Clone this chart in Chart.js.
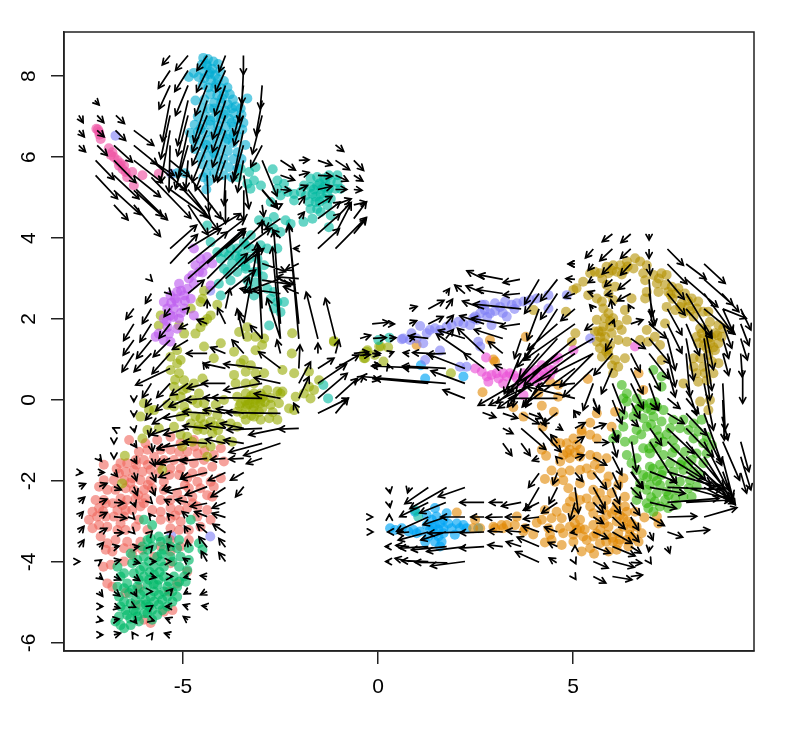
<!DOCTYPE html>
<html>
<head>
<meta charset="UTF-8">
<title>velocity</title>
<script src="https://cdn.jsdelivr.net/npm/chart.js"></script>
<style>
  body { margin: 0; background: #fff; }
  canvas { display: block; filter: blur(0.4px); }
</style>
</head>
<body>
<canvas id="chart" width="786" height="740"></canvas>
<script>
const xTicks = [-5, 0, 5];
const yTicks = [-6, -4, -2, 0, 2, 4, 6, 8];

const cyan = [[-4.48,8.45],[-4.36,8.42],[-4.22,8.36],[-4.1,8.3],[-4.52,8.28],[-4.38,8.25],[-4.25,8.18],[-4.05,8.12],[-4.48,8.12],[-4.33,8.05],[-4.18,8.02],[-4.85,7.98],[-4.72,8.08],[-4.6,7.98],[-4.45,7.95],[-4.28,7.9],[-4.1,7.92],[-3.95,7.88],[-4.5,7.78],[-4.35,7.72],[-4.18,7.72],[-4.02,7.7],[-3.86,7.72],[-4.3,7.55],[-4.12,7.52],[-3.95,7.55],[-3.8,7.55],[-3.72,7.42],[-3.35,7.45],[-4.68,7.4],[-4.45,7.42],[-4.2,7.35],[-4.02,7.35],[-3.85,7.3],[-3.65,7.25],[-3.52,7.2],[-4.5,7.2],[-4.32,7.2],[-4.1,7.15],[-3.92,7.15],[-3.7,7.08],[-3.5,7.05],[-4.62,7.0],[-4.42,7.0],[-4.2,6.98],[-4.02,6.95],[-3.82,6.95],[-3.6,6.92],[-3.45,6.85],[-4.7,6.8],[-4.5,6.8],[-4.3,6.8],[-4.1,6.78],[-3.9,6.75],[-3.7,6.75],[-3.48,6.68],[-4.82,6.6],[-4.62,6.62],[-4.42,6.6],[-4.2,6.58],[-4.0,6.58],[-3.8,6.55],[-3.6,6.52],[-4.72,6.42],[-4.55,6.4],[-4.32,6.42],[-4.12,6.38],[-3.92,6.38],[-3.72,6.35],[-3.4,6.3],[-4.7,6.2],[-4.45,6.22],[-4.25,6.2],[-4.05,6.18],[-3.85,6.15],[-3.6,6.12],[-4.55,6.0],[-4.35,6.02],[-4.15,5.98],[-3.95,5.95],[-3.7,5.95],[-3.5,5.95],[-4.5,5.82],[-4.3,5.8],[-4.05,5.78],[-3.82,5.75],[-3.6,5.72],[-4.4,5.6],[-4.2,5.6],[-3.95,5.55],[-3.75,5.5],[-4.48,5.5],[-4.35,5.4],[-4.4,5.2],[-5.15,5.6],[-4.95,5.6],[-4.4,8.3],[-4.3,8.1],[-4.15,7.8],[-4.0,7.45],[-3.75,7.2],[-4.2,7.2],[-3.95,7.05],[-4.3,6.9],[-3.75,6.85],[-4.55,6.7],[-4.1,6.65],[-3.85,6.45],[-4.4,6.3],[-3.7,6.55],[-4.2,6.1]];

const teal = [[-3.52,5.71],[-3.3,5.63],[-3.14,5.75],[-2.7,5.7],[-3.6,5.5],[-3.35,5.34],[-3.18,5.42],[-3.27,5.22],[-3,5.3],[-2.58,5.42],[-2.41,5.34],[-2.58,5.22],[-2.32,5.14],[-2.5,5.05],[-2.15,5.09],[-2.75,4.89],[-2.15,4.93],[-1.98,5.14],[-1.9,5.3],[-1.73,5.47],[-1.56,5.51],[-1.38,5.47],[-1.26,5.55],[-1.04,5.55],[-1.73,5.26],[-1.56,5.3],[-1.38,5.26],[-1.21,5.42],[-1.04,5.38],[-1.68,5.09],[-1.47,5.09],[-1.26,5.22],[-1.09,5.22],[-1.77,4.89],[-1.6,4.89],[-1.38,4.97],[-1.21,4.97],[-.96,5.22],[-1.73,4.72],[-1.56,4.72],[-1.3,4.81],[-1.68,4.48],[-1.91,4.4],[-1.47,4.64],[-1.21,4.56],[-1.26,4.27],[-2.67,4.52],[-2.37,4.44],[-2.24,4.35],[-1.85,5.05],[-1.45,5.2],[-1.3,5.1],[-1.6,5.02],[-1.5,5.35],[-1.35,5.4],[-1.65,5.2],[-1.5,4.9],
[-4.38,4.31],[-4.29,3.9],[-4.12,3.65],[-3.95,3.65],[-3.78,3.74],[-3.61,3.74],[-3.44,3.9],[-3.26,4.07],[-3.05,4.44],[-2.84,4.4],[-2.67,4.23],[-2.5,4.15],[-4.03,3.49],[-3.82,3.57],[-3.65,3.57],[-3.48,3.61],[-3.26,3.74],[-3.01,3.82],[-3.95,3.24],[-3.74,3.37],[-3.52,3.41],[-3.31,3.49],[-3.09,3.49],[-2.84,3.74],[-3.86,3.16],[-3.61,3.16],[-3.39,3.24],[-3.18,3.16],[-2.92,3.33],[-2.58,3.74],[-4.08,2.87],[-3.78,2.95],[-3.35,2.95],[-3.14,2.91],[-3.31,2.75],[-3.18,2.58],[-2.84,2.75],[-2.67,2.67],[-4.03,2.58],[-2.75,2.5],[-2.58,2.42],[-2.41,2.42],[-2.67,2.26],[-2.5,2.17],[-2.79,1.84],[-3.09,3.16],[-3.39,3.82],[-3.55,3.5],[-3.4,3.3],[-2.95,3.05],
[-1.4,.37],[-1.28,.04],[.01,1.48],[.29,1.54],[.95,-2.72],[1.03,-2.88]];

const pink = [[-7.22,6.7],[-7.15,6.62],[-7.11,6.45],[-7.18,6.68],[-7.14,6.55],[-6.9,6.22],[-6.81,6.12],[-6.77,6.0],[-6.68,5.92],[-6.64,5.79],[-6.51,5.79],[-6.47,5.63],[-6.43,5.5],[-6.04,5.55],[-6.26,5.3],[-6.3,5.63],[-5.62,5.59],[-6.85,6.05],[-6.6,5.85],[-6.55,5.7]];

const purple = [[-4.72,3.74],[-4.55,3.49],[-4.38,3.53],[-4.68,3.33],[-4.46,3.33],[-4.25,3.37],[-4.76,3.08],[-4.59,3.16],[-4.29,2.83],[-5.1,2.87],[-4.72,2.87],[-4.89,2.75],[-5.15,2.67],[-5.32,2.58],[-4.97,2.58],[-5.49,2.42],[-5.15,2.42],[-4.8,2.5],[-5.4,2.26],[-5.23,2.26],[-4.97,2.26],[-5.49,2.01],[-5.32,2.09],[-5.1,2.01],[-4.72,2.09],[-5.4,1.8],[-5.15,1.76],[-5.62,1.64],[-5.36,1.64],[-5.49,1.47],[-5.7,1.56],[-5.32,1.44],[-5.3,2.4],[-5.05,2.15],[-4.95,2.45],[-5.25,2.05],[-5.42,1.95],[-5.2,2.5],[-5.05,2.7],[-4.85,3.0],[-4.5,3.15]];

const olive = [[-4.46,2.7],[-4.5,2.5],[-4.55,2.42],[-4.12,2.35],[-4.8,2.26],[-4.29,2.09],[-4.46,1.93],[-4.38,2.0],[-4.55,1.8],[-5.57,2.09],[-5.62,1.84],[-5.1,1.84],[-4.97,1.64],[-4.68,1.64],[-3.56,1.68],[-3.35,1.8],[-3.35,1.56],[-3.14,1.56],[-2.92,1.52],[-2.2,1.65],[-1.13,1.46],
[-5.15,1.23],[-5.32,1.07],[-5.06,.99],[-5.32,.74],[-5.1,.66],[-4.97,.49],[-4.72,.41],[-5.23,.33],[-4.89,.29],[-4.59,.16],[-5.23,.08],[-5.06,.08],[-4.76,0],[-5.4,-.12],[-5.23,-.16],[-4.97,-.16],[-4.63,-.08],[-4.46,-.08],[-4.16,-.12],[-3.95,0],[-4.38,-.29],[-4.12,-.37],[-4.68,-.41],[-4.55,-.45],[-5.06,-.41],[-4.8,-.58],[-4.29,-.53],[-4.03,-.58],[-3.78,-.58],[-3.61,-.66],[-3.39,-.49],[-3.18,-.41],[-3.01,-.49],[-2.79,-.45],[-2.58,-.49],[-3.61,-.29],[-3.39,-.21],[-3.18,-.16],[-2.97,-.21],[-2.75,-.12],[-2.54,-.08],[-2.45,.21],[-2.58,.21],[-2.84,.25],[-3.01,.16],[-3.18,.16],[-3.39,.16],[-3.61,.08],[-3.14,0],[-3.31,0],[-3.52,-.08],[-3.01,-.08],[-3.39,.41],[-3.18,.41],[-2.92,.66],[-3.14,.66],[-3.26,.86],[-3.52,.91],[-3.69,.62],[-3.65,.41],[-3.39,.7],[-2.45,.74],[-2.15,.66],[-2.21,1.15],[-1.77,.7],[-1.51,.49],[-1.77,.33],[-1.64,.25],[-1.9,.16],[-1.73,.04],[-2.11,.08],[-2.28,-.21],[-2.15,-.25],[-2.5,.16],[-4.46,1.32],[-4.03,1.4],[-4.21,1.03],[-4.5,.53],[-3.69,1.19],[-3.44,.99],[-2.97,1.36],[-3.14,1.23],[-1.13,1.44],[-.27,1.23],[-.36,1.03],[.03,1.32],
[-6,-.08],[-6.09,-.41],[-5.87,-.25],[-5.74,-.25],[-5.91,-.74],[-5.62,-.7],[-6.04,-.95],[-5.23,-.66],[-5.06,-.86],[-4.89,-.91],[-4.63,-.74],[-4.46,-.74],[-4.25,-.82],[-4.03,-.99],[-3.74,-1.03],[-4.29,-1.15],[-4.5,-1.07],[-4.76,-1.03],[-5.02,-1.15],[-6.49,-1.38],[-5.53,-1.73],[-6.56,-2.06],[-4.38,-1.4],
[-3.3,-.1],[-3.2,-.25],[-3.05,-.3],[-2.9,-.05],[-2.75,.05],[-3.45,-.35],[-3.25,.1],[-3.1,.05],[-2.95,.08],[-3.4,-.02],[-2.7,-.3],[-3.55,-.15],[-4.2,-.65],[-4.45,-.6],[-4.6,-.65],[-4.1,-.75],[-.29,1.19],[-.08,1.11],[.07,1.32],[.26,1.3],[.14,.95],[-.33,1.03],[-.39,1.11],[1.87,.66],[-5.15,.9],[-5.2,.5],[-5.0,.25],[-4.9,-.3],[-3.35,-.12],[-3.15,-.08],[-3.0,.02],[-3.25,-.38]];

const salmon = [[-6.38,-.99],[-5.96,-1.07],[-5.66,-.99],[-5.32,-.91],[-5.06,-1.07],[-4.72,-.99],[-6.13,-1.28],[-5.91,-1.23],[-5.57,-1.23],[-5.32,-1.23],[-5.1,-1.28],[-4.89,-1.28],[-4.63,-1.32],[-4.21,-1.36],[-4.03,-1.19],[-7.03,-1.6],[-6.6,-1.56],[-6.43,-1.56],[-6.21,-1.48],[-6,-1.48],[-5.74,-1.4],[-5.49,-1.48],[-5.23,-1.48],[-4.97,-1.48],[-4.72,-1.56],[-4.46,-1.48],[-3.95,-1.52],[-6.64,-1.81],[-6.47,-1.77],[-6.26,-1.73],[-6.04,-1.77],[-5.83,-1.73],[-5.62,-1.81],[-5.32,-1.69],[-5.06,-1.69],[-4.76,-1.81],[-4.5,-1.77],[-7.03,-1.98],[-6.77,-1.98],[-6.51,-1.98],[-6.3,-1.93],[-6.09,-1.98],[-5.83,-1.98],[-5.49,-2.02],[-4.89,-1.93],[-4.63,-2.02],[-4.29,-2.02],[-4.03,-1.93],[-7.15,-2.14],[-6.94,-2.22],[-6.73,-2.22],[-6.47,-2.18],[-6.26,-2.22],[-6,-2.22],[-5.79,-2.18],[-5.49,-2.22],[-5.15,-2.3],[-4.85,-2.18],[-4.55,-2.18],[-4.21,-2.14],[-7.24,-2.47],[-7.03,-2.47],[-6.6,-2.43],[-6.43,-2.47],[-6.21,-2.43],[-5.96,-2.43],[-5.57,-2.47],[-5.32,-2.47],[-5.02,-2.47],[-4.76,-2.39],[-4.38,-2.35],[-4.25,-2.39],[-7.32,-2.76],[-7.15,-2.67],[-6.98,-2.55],[-6.68,-2.72],[-6.47,-2.72],[-6.3,-2.72],[-6.09,-2.63],[-5.79,-2.72],[-5.57,-2.76],[-5.32,-2.67],[-5.1,-2.72],[-4.89,-2.67],[-4.63,-2.63],[-4.38,-2.72],[-7.41,-2.96],[-7.2,-2.88],[-6.98,-2.88],[-6.77,-2.88],[-6.51,-2.88],[-6.13,-2.96],[-5.57,-2.96],[-5.32,-2.92],[-5.06,-3],[-4.63,-2.88],[-4.29,-2.96],[-7.32,-3.17],[-7.15,-3.09],[-6.94,-3.13],[-6.68,-3.21],[-6.47,-3.21],[-6.21,-3.13],[-5.91,-3.21],[-5.32,-3.17],[-5.1,-3.21],[-4.85,-3.21],[-4.55,-3.13],[-7.11,-3.37],[-6.94,-3.54],[-6.73,-3.46],[-6.43,-3.5],[-6.09,-3.5],[-5.32,-3.46],[-4.85,-3.46],[-6.98,-3.7],[-6.81,-3.74],[-6.51,-3.66],[-6.26,-3.66],[-6.04,-3.7],[-5.57,-3.62],[-5.32,-3.74],[-5.06,-3.62],[-7.04,-4.12],[-6.85,-4.07],[-6.51,-3.99],[-6.3,-3.83],[-5.74,-3.87],[-5.32,-4.03],[-4.89,-4.24],[-6.94,-4.53],[-6.81,-4.61],[-6.47,-4.77],[-6.13,-4.65],[-5.36,-4.73],[-5.15,-4.53],[-6.21,-5.06],[-6,-5.43],[-5.83,-5.51],[-5.27,-5.19],[-5.49,-5.23],
[-6.2,-1.6],[-5.9,-1.6],[-5.6,-1.6],[-5.35,-1.85],[-6.35,-2.05],[-6.15,-2.35],[-5.9,-2.1],[-6.55,-2.6],[-6.8,-2.55],[-7.05,-2.75],[-6.7,-1.7],[-5.1,-1.85],[-4.95,-2.1],[-4.75,-2.55],[-5.2,-2.85],[-6.6,-3.05],[-4.7,-1.15],[-4.45,-1.25],[-4.25,-1.65],[-6.0,-2.55]];

const green = [[-5.79,-3.09],[-6,-2.96],[-4.8,-2.96],[-5.62,-3.37],[-5.83,-3.42],[-5.4,-3.46],[-5.1,-3.46],[-6.04,-3.62],[-5.79,-3.62],[-5.49,-3.7],[-5.15,-3.66],[-4.85,-3.66],[-4.59,-3.54],[-4.5,-3.7],[-6.34,-3.79],[-6,-3.87],[-5.66,-3.87],[-5.32,-3.87],[-5.06,-3.87],[-4.85,-3.95],[-6.68,-4.12],[-6.3,-4.03],[-6,-4.12],[-5.74,-4.12],[-5.49,-4.12],[-5.1,-4.12],[-4.89,-4.2],[-6.6,-4.36],[-6.26,-4.28],[-6,-4.36],[-5.74,-4.32],[-5.49,-4.36],[-5.23,-4.36],[-4.97,-4.36],[-6.68,-4.61],[-6.43,-4.53],[-6.17,-4.61],[-5.91,-4.57],[-5.66,-4.57],[-5.4,-4.61],[-5.15,-4.61],[-4.93,-4.49],[-6.64,-4.86],[-6.38,-4.77],[-6.09,-4.81],[-5.83,-4.86],[-5.62,-4.81],[-5.4,-4.86],[-5.15,-4.86],[-6.6,-5.1],[-6.34,-5.02],[-6.09,-5.06],[-5.87,-5.1],[-5.62,-5.06],[-5.4,-5.1],[-6.64,-5.35],[-6.43,-5.31],[-6.17,-5.35],[-5.91,-5.27],[-5.66,-5.31],[-6.6,-5.56],[-6.34,-5.56],[-6.13,-5.47],[-5.79,-5.43],[-6.73,-5.47],[-6.51,-5.64],[-6.26,-5.19],[-6,-5.27],
[-5.57,-3.5],[-5.32,-3.62],[-5.91,-3.46],[-6.17,-3.95],[-5.87,-3.99],[-5.57,-3.99],[-5.27,-3.99],[-6.51,-4.28],[-6.13,-4.44],[-5.87,-4.44],[-5.62,-4.44],[-5.36,-4.49],[-5.1,-4.49],[-6.51,-4.65],[-6.3,-4.69],[-6,-4.73],[-5.74,-4.73],[-5.49,-4.73],[-5.27,-4.73],[-6.51,-4.98],[-6.21,-4.94],[-5.96,-4.94],[-5.74,-4.98],[-5.53,-4.94],[-5.27,-4.98],[-6.47,-5.19],[-6.21,-5.23],[-5.79,-5.19],[-5.53,-5.19],[-5.9,-3.7],[-5.55,-3.8],[-5.75,-4.55],[-5.85,-4.25],[-5.6,-4.25],[-6.1,-4.2],[-5.95,-5.05],[-6.35,-5.4]];

const periwinkle = [[-6.73,6.53],[-5.3,5.59],[-5.3,-3.35],[-4.3,-3.37],[-4.3,2.7],[.65,1.52],[.86,1.65],[1.08,1.83],[.82,1.48],[.99,1.52],[1.16,1.4],[.61,1.5],[1.33,1.73],[1.46,1.77],[1.59,1.73],[1.25,1.65],[1.76,1.81],[1.89,1.85],[2.06,1.93],[2.19,1.89],[2.36,1.85],[2.49,2.06],[2.62,2.14],[2.74,2.22],[2.87,2.14],[3,2.39],[2.74,2.35],[2.53,1.98],[2.91,1.85],[3.13,2.3],[3.26,2.43],[3.3,2.06],[3.43,2.35],[3.56,2.39],[3.73,2.43],[3.9,2.47],[4.07,2.51],[4.37,2.59],[4.37,2.26],[2.66,2.35],[2.44,2.02],[4.84,2.59],[2.57,1.44],[2.62,1.32],[1.59,1.22],[1.21,.99],[2.1,.82],[2.27,.82],[5.44,1.52],[3.0,2.2],[3.2,2.15],[3.5,2.25],[2.8,2.05]];

const magenta = [[2.49,.78],[2.66,.7],[2.79,.58],[2.91,.62],[3.09,.53],[3.21,.66],[3.38,.66],[3.56,.53],[3.73,.66],[3.9,.7],[4.07,.74],[4.2,.86],[4.37,.78],[4.5,.74],[3.98,.58],[4.15,.62],[4.28,.58],[3.81,.49],[3.64,.41],[3.21,.41],[2.83,.45],[2.77,1.05],[5.01,1.23],[4.62,1.05],[4.54,.99],[6.59,1.32],[3.73,.12],[4.07,.45],[4.24,.7],[3.9,.53],[4.41,.62],[3.47,.62],[3.04,.66],[3.3,.58]];

const gold = [[5.09,2.76],[5.26,2.92],[5.01,2.72],[5.44,3.13],[5.56,3.17],[5.69,3.13],[5.86,3.29],[6.03,3.33],[6.21,3.33],[6.38,3.42],[6.59,3.5],[6.72,3.42],[6.89,3.33],[5.91,3.13],[6.12,3.17],[6.33,3.21],[6.55,3.25],[6.8,3.13],[7.06,3.09],[6.85,2.96],[7.27,3.13],[7.4,3.09],[7.15,2.88],[7.36,2.84],[7.53,2.8],[7.7,2.76],[6.89,2.67],[6.85,2.51],[7.19,2.67],[7.44,2.67],[7.66,2.63],[7.87,2.63],[8.04,2.51],[8.21,2.43],[8.34,2.18],[8.47,2.18],[7.79,2.39],[7.96,2.3],[8.17,2.26],[7.4,2.3],[7.62,2.22],[7.83,2.14],[8.09,2.06],[5.39,2.59],[5.61,2.51],[5.74,2.43],[5.91,2.63],[6.08,2.8],[5.86,2.84],[6.03,2.47],[6.5,2.51],[6.33,2.22],[5.78,2.26],[5.91,2.14],[5.61,1.98],[5.82,2.02],[6.03,2.02],[6.38,1.98],[5.78,1.81],[5.95,1.81],[6.16,1.85],[5.56,1.69],[5.74,1.69],[5.99,1.65],[6.25,1.73],[5.61,1.44],[5.82,1.56],[6.16,1.48],[5.69,1.28],[5.95,1.36],[6.38,1.44],[5.74,1.07],[5.91,1.11],[6.08,.99],[6.16,.82],[6.03,.66],[6.33,1.03],[6.89,1.73],[7.1,1.56],[7.36,1.89],[6.72,1.48],[6.93,1.44],[7.23,1.36],[7.27,.99],[8.51,1.93],[8.73,1.85],[8.85,1.77],[8.26,1.77],[8.43,1.73],[8.64,1.65],[8.81,1.56],[8.17,1.56],[8.34,1.52],[8.51,1.4],[8.73,1.4],[8.21,1.4],[8.43,1.28],[8.64,1.23],[8.47,1.11],[8.09,1.03],[8.26,1.03],[8.73,.91],[8.56,.95],[8.09,.82],[8.34,.82],[8.17,.66],[8.38,.66],[8.21,.45],[8.43,.49],[7.83,.41],[8.6,.66],[8.51,0],[8.47,-.25],[8.26,-.04],[3.99,2.22],[4.82,2.18],[5.06,1.65],[4.97,1.44],
[6.0,3.2],[6.25,3.1],[5.75,3.0],[7.55,2.5],[7.75,2.3],[5.8,1.4],[5.85,1.2],[5.65,1.7],[5.95,1.95],[8.35,1.35],[8.55,1.55],[8.3,1.65],[8.6,1.3],[6.4,3.3],[7.2,3.0],[7.5,2.6],[7.95,2.45],[8.0,2.2],[5.7,1.55],[5.9,1.25],[6.0,.85],[8.45,1.5],[8.7,1.6]];

const lime = [[7.06,.74],[7.27,.58],[7.27,.33],[6.63,.04],[6.29,.04],[6.38,.16],[6.25,.37],[6.97,-.08],[6.72,-.16],[6.38,-.04],[6.63,-.25],[6.89,-.21],[7.15,-.16],[7.32,-.25],[6.29,-.37],[6.55,-.41],[6.8,-.45],[7.06,-.41],[7.27,-.53],[7.57,-.49],[7.83,-.49],[8.09,-.58],[8.3,-.49],[6.29,-.66],[6.12,-.86],[6.63,-.74],[6.89,-.66],[7.15,-.74],[7.49,-.7],[7.74,-.7],[7.96,-.74],[8.21,-.78],[8.43,-.91],[6.03,-.95],[6.33,-1.03],[6.55,-.99],[6.8,-1.19],[7.06,-1.07],[7.32,-1.03],[7.57,-.99],[8.09,-.95],[8.34,-1.07],[8.56,-1.11],[6.38,-1.36],[6.63,-1.44],[6.97,-1.32],[7.32,-1.36],[7.62,-1.19],[7.87,-1.28],[8.17,-1.32],[8.43,-1.32],[6.5,-1.56],[6.63,-1.73],[6.97,-1.65],[7.23,-1.6],[7.49,-1.56],[7.79,-1.52],[8.04,-1.48],[8.34,-1.56],[6.8,-1.85],[7.06,-1.89],[7.27,-1.85],[7.57,-1.77],[7.83,-1.73],[8.09,-1.77],[6.72,-2.06],[6.97,-2.1],[7.23,-2.1],[7.49,-2.06],[7.74,-2.02],[8,-1.98],[8.26,-1.85],[6.63,-2.26],[6.89,-2.22],[7.15,-2.3],[7.4,-2.26],[7.66,-2.22],[7.96,-2.18],[8.17,-2.14],[6.63,-2.47],[6.89,-2.55],[7.1,-2.51],[7.36,-2.47],[7.62,-2.43],[7.83,-2.39],[8.04,-2.39],[6.93,-2.67],[7.44,-2.67],[7.66,-2.59],[7.23,-2.63],[7.06,-2.76],
[7.0,-.6],[7.2,-.9],[7.4,-.85],[6.75,-.85],[6.95,-1.2],[7.15,-1.2],[7.05,-1.7],[7.3,-1.75],[6.9,-1.9],[7.15,-2.0],[7.45,-2.35],[7.0,-2.4],[7.0,-.25],[6.8,-.1],[7.1,-.05],[7.55,-1.3],[7.75,-1.6],[7.95,-1.6]];

const orange = [[.99,1.36],[2.87,1.48],[2.96,1],[3,.95],[3.79,1.56],[2.68,.19],[3.47,-.18],[3.73,-.41],[4.2,-.14],[4.51,-.29],[4.11,.16],[4.62,.08],[4.41,.45],[4.62,.37],[5.38,.52],[6.68,.66],[6.8,.25],[5.61,-.33],[6.08,-.29],[5.44,-.56],[5.99,-.66],[4.22,-.66],[5.22,-.74],
[4.54,-1.03],[4.67,-1.07],[4.2,-1.23],[4.31,-1.38],[5.01,-.95],[5.22,-.81],[5.44,-.86],[5.61,-.95],[4.84,-1.07],[5.09,-1.11],[4.92,-1.23],[5.18,-1.23],[4.75,-1.36],[4.92,-1.44],[4.67,-1.52],[5.18,-1.4],[5.44,-1.36],[5.61,-1.4],[5.86,-1.44],[5.56,-1.6],[5.35,-1.69],[5.69,-1.69],[4.45,-1.74],[4.71,-1.79],[4.92,-1.74],[5.18,-1.73],[4.28,-1.95],[4.54,-2.02],[4.75,-1.98],[5.48,-1.85],[5.91,-1.89],[6.29,-1.93],[5.18,-2.06],[5.86,-2.06],[6.16,-2.1],[4.88,-2.18],[5.52,-2.22],[5.01,-2.39],[5.35,-2.43],[5.69,-2.3],[5.99,-2.3],[6.33,-2.39],[4.92,-2.51],[5.18,-2.47],[5.61,-2.47],[5.86,-2.47],[6.12,-2.55],[6.33,-2.63],[4.84,-2.67],[5.09,-2.67],[5.44,-2.63],[5.78,-2.67],[6.08,-2.72],[6.38,-2.76],[4.28,-2.72],[4.58,-2.76],[5.01,-2.84],[5.52,-2.8],[5.86,-2.84],[6.29,-2.92],[6.59,-2.76],[4.2,-2.96],[4.45,-2.92],[4.71,-2.92],[5.18,-2.96],[5.69,-2.96],[6.12,-3],[6.5,-3.05],[6.83,-2.9],[4.07,-3.03],[4.37,-3.17],[4.67,-3.17],[4.92,-3.13],[5.18,-3.17],[5.52,-3.09],[5.91,-3.13],[6.29,-3.13],[6.63,-3.13],[4.41,-3.33],[4.75,-3.29],[5.01,-3.33],[5.26,-3.37],[5.52,-3.37],[5.86,-3.33],[6.16,-3.29],[6.46,-3.33],[6.76,-3.29],[4.45,-3.46],[4.71,-3.58],[5.01,-3.5],[5.35,-3.46],[5.69,-3.54],[6.03,-3.5],[6.38,-3.46],[6.68,-3.5],[4.28,-3.52],[5.22,-3.74],[5.44,-3.66],[5.54,-3.8],[5.91,-3.74],[6.12,-3.7],[6.42,-3.62],[7.15,-2.88],[7.19,-3.05],
[2.49,-2.96],[2.44,-3.17],[2.62,-3.17],[2.96,-3.13],[3.17,-3.09],[3.3,-3.09],[3.56,-2.88],[3.51,-3.09],[3.77,-3.17],[3.98,-3.32],[3.73,-3.25],[3.21,-3.17],[3,-3.17],[2.02,-2.78],
[5.1,-3.2],[5.3,-3.2],[5.7,-3.2],[6,-3.4],[6.2,-3.45],[5.05,-3.05],[5.8,-3.05],[6.45,-3.2],[5.6,-3.3],[6.55,-3.4],[4.85,-1.3],[5.05,-1.3],[6.0,-2.8],[6.2,-2.85],[6.4,-3.0],[5.85,-3.5],[6.15,-3.55]];

const blue = [[.31,-3.17],[.44,-3.21],[.61,-3.17],[.95,-2.76],[1.46,-2.67],[1.76,-2.8],[1.25,-2.84],[1.5,-2.88],[1.68,-2.96],[2.02,-3.05],[2.19,-3.09],[1.25,-3.09],[1.46,-3.09],[1.68,-3.17],[1.89,-3.17],[2.1,-3.17],[2.27,-3.17],[2.57,-3.17],[1.46,-3.29],[1.68,-3.29],[1.97,-3.33],[1.21,-3.5],[1.46,-3.5],[1.63,-3.5],[1.59,-3.62],[1.08,-3.25],[.91,-3.21],[1.38,-2.96],[1.59,-3.05],[1.33,-3.21],[1.8,-3.05],[1.55,-3.37],[1.29,-3.37],[.99,-3.29],[.78,-3.25],[1.4,-3.15],[1.55,-3.2],[1.1,.86],[1.21,.53],[2.19,.58]];

// tail x, tail y, dx, dy
const arrowsTop = [[-5.33,8.51,-.2,-.23],[-4.87,8.51,-.32,-.37],[-4.38,8.51,-.26,-.37],[-3.91,8.51,-.16,-.4],[-3.45,8.51,0,-.47],[-5.33,8.14,-.3,-.44],[-4.87,8.14,-.34,-.52],[-4.38,8.14,-.27,-.53],[-3.91,8.14,-.25,-.53],[-3.45,8.14,-.04,-.82],[-5.33,7.77,-.28,-.58],[-4.87,7.77,-.32,-.74],[-4.38,7.77,-.3,-.74],[-3.91,7.77,-.27,-.74],[-3.45,7.77,-.11,-.9],[-2.97,7.77,-.05,-.58],[-5.33,7.4,-.2,-1.01],[-4.87,7.4,-.27,-1.11],[-4.38,7.4,-.34,-1.03],[-3.91,7.4,-.33,-.95],[-3.45,7.4,-.24,-.86],[-2.97,7.4,-.16,-.86],[-5.33,7.03,-.24,-1.07],[-4.87,7.03,-.27,-1],[-4.38,7.03,-.38,-.9],[-3.91,7.03,-.33,-.9],[-3.45,7.03,-.24,-.74],[-2.97,7.03,-.25,-.95],[-5.33,6.66,-.24,-1.28],[-4.87,6.66,-.27,-1.19],[-4.38,6.66,-.38,-.86],[-3.91,6.66,-.33,-.9],[-3.45,6.66,-.28,-1.28],[-5.33,6.29,-.03,-1.15],[-4.87,6.29,-.32,-1.07],[-4.38,6.29,-.38,-.9],[-3.91,6.29,-.29,-.9],[-3.45,6.29,-.24,-.82],[-2.97,6.29,-.29,-.53],[-4.87,5.92,-.06,-.7],[-4.38,5.92,-.3,-.74],[-3.91,5.92,-.2,-.53],[-3.45,5.92,-.15,-.78],[-2.97,5.92,.38,-.88],[-4.38,5.55,.04,-.9],[-3.91,5.55,-.04,-.74],[-3.44,5.55,.13,-.82],[-3.91,5.18,0,-.82],[-3.44,5.18,0,-.74],[-2.97,5.18,.39,-.44],[-2.97,4.82,.04,-.29]];

const arrowsPink = [[-7.67,7.03,.11,-.18],[-7.2,7.03,.17,-.18],[-6.72,7.03,.22,-.2],[-7.26,7.4,.11,-.11],[-7.67,6.66,.14,-.16],[-7.2,6.66,.18,-.16],[-6.73,6.66,.26,-.25],[-6.26,6.66,.51,-.37],[-7.67,6.29,.17,-.16],[-7.2,6.29,.26,-.25],[-6.77,6.29,.47,-.41],[-6.26,6.29,.6,-.47],[-7.24,5.92,.47,-.47],[-6.77,5.92,.56,-.55],[-6.26,5.92,.73,-.55],[-5.81,5.92,.58,-.37],[-7.24,5.55,.56,-.58],[-6.77,5.55,.64,-.58],[-6.26,5.55,.68,-.53],[-5.81,5.5,1.01,-1.01],[-6.77,5.18,.68,-.6],[-6.26,5.18,.73,-.64],[-6.2,5.2,.8,-.75],[-6.77,4.82,.36,-.37],[-6.26,4.82,.68,-.78],[-5.33,5.55,1.03,-1.07],[-4.87,5.2,.77,-1],[-5.33,5.2,.94,-.66],[-4.87,5.55,.85,-1.07],[-4.87,4.82,.51,-.74],[-5.81,5.92,.9,-.75],[-5.33,5.92,.5,-.4]];

const arrowsTealRight = [[-2.5,5.92,.38,-.24],[-2.03,5.92,.26,.01],[-1.54,5.92,.36,-.12],[-1.09,5.92,.36,-.23],[-.62,5.92,.25,-.25],[-1.09,6.3,.21,-.16],[-2.5,5.55,.36,-.12],[-2.03,5.55,.26,.07],[-1.54,5.55,.36,-.02],[-1.09,5.55,.32,-.14],[-.62,5.55,.23,-.14],[-2.97,5.2,.39,-.44],[-2.5,5.2,.26,-.02],[-2.03,5.2,.22,.1],[-1.54,5.2,.36,.08],[-1.09,5.2,.29,0],[-.62,5.2,.21,-.02],[-2.5,4.82,.04,.02],[-2.03,4.82,.15,.21],[-1.54,4.82,.36,.21],[-1.09,4.82,.4,.15],[-.62,4.82,.32,.07],[-2.03,4.48,.14,.16],[-1.54,4.48,.57,.41],[-1.09,4.48,.4,.4],[-.62,4.48,.32,.41],[-1.54,4.11,.57,.49],[-1.09,4.11,.4,.74],[-1.09,3.74,.79,.77],[-1.54,3.74,.55,.49],[-.62,4.11,.32,.37]];

const arrowsCentre = [[-5.33,3.74,.68,.58],[-5.33,3.37,.7,.72],[-4.87,3.74,.84,.49],[-4.87,3.37,1.01,.78],[-4.87,3,1.44,1.23],[-4.38,3.37,.98,.86],[-4.38,3,1.45,1.4],[-4.87,2.63,.41,.33],[-4.38,2.63,1.03,.99],[-3.91,3,.85,.74],[-3.91,2.63,.77,.58],[-4.38,4.11,.85,.49],[-3.91,3.74,.51,.41],[-3.91,4.11,.5,.37],[-2.5,4.48,-.38,-.25],[-3.44,3.74,.68,.49],[-3.44,3.37,.51,.37],[-5.81,2.96,.02,-.02],[-5.33,2.63,.02,-.02],[-5.81,2.63,-.15,-.24],[-6.26,2.26,-.2,-.26],[-5.81,2.26,-.23,-.37],[-5.33,2.26,-.15,-.2],[-6.26,1.88,-.26,-.41],[-5.81,1.88,-.29,-.44],[-5.33,1.88,-.28,-.35],[-4.87,2.26,.02,.02],[-4.87,1.88,-.23,-.12],[-4.38,2.26,0,.21],[-4.38,1.88,-.26,.11],[-3.91,2.26,.11,.49],[-3.91,1.88,-.2,.39],[-3.44,1.9,-.13,.25],[-3.44,1.51,-.17,.74],[-2.97,1.51,-.3,.33],[-2.5,1.51,-.34,1],[-2.03,1.51,-.26,2.84],[-2.5,1.88,-.17,2.3],[-2.5,1.51,-.21,2.26],[-2.97,1.51,-.13,2.37],[-2.97,2.26,-.09,1.55],[-2.03,1.88,-.26,2.42],[-1.54,1.51,-.3,1.15],[-1.09,1.51,-.26,1],[-3.44,1.9,.34,1.81],[-2.03,2.63,-.38,.16],[-2.03,3,-.56,.04],[-2.03,3.37,-.34,-.16],[-2.03,3.74,-.13,0],[-2.5,3,-.9,-.33],[-2.97,2.63,-.56,.12],[-2.5,2.63,-.7,.1],[-3.44,2.63,.13,.4],[-2.97,2.96,.7,-.1],[-2.97,3.37,.6,-.2],[-2.5,2.96,.35,-.1],[-2.97,4.11,0,.33],[-2.5,4.0,-.2,.2]];

const arrowsLeft = [[-6.26,1.48,-.27,-.37],[-5.81,1.48,-.38,-.45],[-5.33,1.48,-.43,-.41],[-4.87,1.48,-.4,-.23],[-6.26,1.15,-.3,-.45],[-5.81,1.15,-.44,-.45],[-5.33,1.15,-.46,-.5],[-4.38,1.15,-.53,0],[-3.91,1.15,-.38,.15],[-3.44,1.15,-.3,.33],[-2.5,1.15,-.09,.33],[-2.03,.78,.03,.58],[-1.54,1.15,0,.25],[-1.09,1.15,.09,.33],[-5.33,.78,-.88,-.41],[-4.38,.78,-.1,.14],[-3.91,.78,-.56,.12],[-2.97,.78,-.98,.11],[-2.5,.78,-.56,.41],[-2.03,.41,.3,.53],[-2.03,.04,.26,.53],[-1.54,.78,.41,.25],[-1.54,.41,.73,.48],[-1.54,.04,.75,.62],[-1.54,-.33,.78,.37],[-1.09,-.33,.32,.37],[-1.09,.78,.6,.33],[-.62,1.15,.38,.04],[-.15,1.15,.21,0],[-.62,.41,.26,.18],[-.15,.53,.17,-.04],[-.15,.86,.21,0],[-1.09,.04,.56,.49],
[-5.81,.41,-.23,-.35],[-5.33,.41,-.34,-.35],[-4.87,.41,-.44,-.29],[-4.38,.41,-.51,-.12],[-3.91,.41,-.6,0],[-2.97,.41,-.98,-.17],[-2.5,.41,-.67,.14],[-6.26,.04,0,-.08],[-5.81,.04,-.15,-.2],[-5.33,.04,-.37,-.31],[-4.87,.04,-.49,-.21],[-4.38,.04,-.56,-.04],[-3.91,.04,-.56,.02],[-2.97,.04,-1.28,.02],[-2.5,.04,-.67,.12],[-6.26,-.33,0,-.08],[-5.81,-.33,-.15,-.16],[-5.33,-.33,-.45,-.26],[-4.87,-.33,-.62,-.12],[-4.38,-.33,-.62,.04],[-3.91,-.33,-.56,.09],[-3.44,-.33,-.7,.11],[-2.5,-.33,-1.39,.02],[-2.03,-.33,-.13,.25],[-6.77,-.7,-.02,.01],[-6.26,-.7,.02,-.09],[-5.81,-.7,-.06,-.21],[-5.33,-.7,-.48,-.16],[-4.87,-.7,-.62,-.16],[-4.38,-.7,-.62,.06],[-3.91,-.7,-.51,.07],[-3.44,-.7,-.6,.12],[-2.97,-.7,-.9,-.04],[-2.5,-.7,-.81,-.16],[-2.03,-.7,-.51,-.02],
[-6.77,-1.07,0,-.01],[-6.26,-1.07,.07,-.1],[-5.81,-1.07,.03,-.21],[-5.33,-1.07,-.32,-.16],[-4.87,-1.07,-.79,-.12],[-4.38,-1.07,-.62,.04],[-3.91,-1.07,-.51,.1],[-3.44,-1.07,-.51,.08],[-2.97,-1.07,-.85,-.22],[-2.5,-1.07,-.94,-.3],[-7.15,-1.44,.06,-.07],[-6.77,-1.44,0,-.01],[-6.26,-1.44,.07,-.12],[-5.81,-1.44,.09,-.19],[-5.33,-1.44,-.37,-.14],[-4.87,-1.44,-.74,-.12],[-4.38,-1.44,-.68,-.07],[-3.91,-1.44,-.38,-.03],[-3.44,-1.44,-.38,-.02],[-2.97,-1.44,-.4,-.13],
[-7.67,-1.79,.09,-.01],[-7.15,-1.79,.13,0],[-6.77,-1.79,.09,-.1],[-6.26,-1.79,.07,-.2],[-5.81,-1.79,.11,-.22],[-5.33,-1.79,-.28,-.12],[-4.87,-1.79,-.19,-.16],[-4.38,-1.79,-.67,-.16],[-3.91,-1.79,-.44,-.2],[-3.44,-1.79,-.34,-.19],[-7.67,-2.14,.17,.07],[-7.15,-2.14,.2,.08],[-6.77,-2.14,.19,-.08],[-6.26,-2.14,.09,-.21],[-5.81,-2.14,.09,-.21],[-5.33,-2.14,-.2,-.08],[-4.87,-2.14,-.57,-.12],[-4.38,-2.14,-.56,-.21],[-3.91,-2.16,-.37,-.23],[-3.44,-2.14,-.21,-.25],
[-7.67,-2.53,.15,.13],[-7.15,-2.53,.2,.08],[-6.77,-2.53,.26,-.02],[-6.26,-2.53,.04,-.1],[-5.81,-2.53,.02,-.02],[-5.33,-2.53,-.14,.07],[-4.87,-2.53,-.32,.07],[-4.38,-2.55,-.43,-.08],[-3.91,-2.53,-.34,-.14],[-7.67,-2.88,.11,.12],[-7.15,-2.88,.2,.1],[-6.77,-2.88,.32,-.04],[-6.26,-2.92,.02,-.02],[-5.81,-2.88,-.06,.07],[-5.33,-2.88,-.07,.07],[-4.87,-2.88,-.15,.12],[-4.38,-2.88,-.32,.12],[-3.91,-2.9,-.34,.1],
[-7.67,-3.28,.13,.16],[-7.15,-3.28,.2,.11],[-6.77,-3.28,.24,0],[-6.26,-3.28,.02,-.02],[-5.81,-3.26,.02,.02],[-5.33,-3.26,.02,.02],[-4.87,-3.26,-.09,.14],[-4.38,-3.28,-.26,.21],[-3.91,-3.28,-.32,.21],[-7.67,-3.64,.13,.18],[-7.15,-3.64,.11,.12],[-6.77,-3.64,.13,.03],[-6.26,-3.64,.13,.02],[-5.81,-3.64,.03,.03],[-5.33,-3.64,-.07,.08],[-4.87,-3.64,-.02,.18],[-4.38,-3.64,-.21,.26],[-3.91,-3.64,-.17,.22],
[-7.67,-3.99,.02,0],[-7.15,-3.99,.06,.04],[-6.77,-3.99,.17,.04],[-6.26,-3.99,.15,-.04],[-5.81,-3.99,.11,0],[-5.33,-3.99,.02,0],[-4.87,-3.99,-.12,.08],[-4.38,-3.99,-.15,.25],[-3.91,-3.99,-.17,.22],[-7.15,-4.36,.09,-.07],[-6.77,-4.36,.17,-.08],[-6.26,-4.36,.15,-.1],[-5.81,-4.36,.11,-.02],[-5.33,-4.36,.06,0],[-4.87,-4.36,-.1,-.02],[-4.38,-4.36,-.17,.02],[-7.15,-4.73,.09,-.12],[-6.77,-4.73,.15,-.11],[-6.26,-4.73,.07,-.11],[-5.81,-4.73,.02,0],[-5.33,-4.73,.06,.06],[-4.87,-4.73,-.1,-.06],[-4.38,-4.73,-.17,-.08],[-7.15,-5.1,.09,0],[-6.77,-5.1,.15,-.04],[-6.26,-5.1,.04,-.02],[-5.81,-5.1,.03,.02],[-5.33,-5.1,-.11,0],[-4.87,-5.1,-.12,.04],[-4.38,-5.1,-.13,.02],[-7.15,-5.43,.09,-.02],[-6.77,-5.43,.13,.02],[-6.26,-5.43,.07,-.08],[-5.81,-5.43,.07,-.02],[-5.33,-5.43,-.11,.04],[-4.87,-5.43,-.12,.08],[-7.15,-5.8,.09,0],[-6.77,-5.8,.17,.04],[-6.26,-5.8,-.04,.06],[-5.81,-5.8,.03,.04],[-5.33,-5.8,-.14,.04]];

const arrowsBridge = [[-.46,1.52,.27,.08],[-.15,1.88,.43,.04],[-.13,1.52,.34,.02],[.29,1.88,.13,0],[.29,1.52,.17,.02],[.8,2.25,.2,.06],[.8,1.88,.19,.08],[1.29,2.25,.4,.21],[1.29,1.88,.38,.18],[1.74,2.63,.09,.12],[1.74,2.25,.17,.24],[2.23,2.63,-.26,.21],[2.72,2.98,-.44,.21],[1.74,1.88,.19,.21],[1.74,1.52,.19,.22],[1.29,1.52,-.49,.06],[.8,1.52,.14,.04],[-.46,1.1,.26,.02],[-.13,1.15,.17,-.04],[.29,1.15,.11,.04],[.8,1.15,-.15,.02],[1.29,1.15,-.4,.02],[1.74,1.15,-.47,-.02],[2.23,.78,-.94,.35],[2.72,.78,-.51,.37],[2.23,1.15,-.73,.48],[2.72,1.15,-.68,.62],[3.2,1.15,-.37,.29],[3.2,1.52,-.73,.22],[3.21,1.88,-.81,.14],[3.64,1.88,-.51,-.07],[3.64,2.63,-.43,-.04],[3.64,2.98,-.43,-.08],[3.2,2.98,-.61,.11],[3.2,2.63,-.67,.1],[2.72,2.63,-.46,.19],[2.72,2.25,-.55,.19],[3.67,2.25,-1.22,.12],[2.72,1.88,-.62,.2],[2.23,1.52,-.68,.2],[1.74,.78,-1.11,.06],[1.74,.41,-2.18,.17],[1.29,.78,-1.45,.06],[1.29,.41,-1.37,.12],[.8,.78,-.15,.02],[.29,.78,-.04,.1],[2.23,.41,-.87,.31],[2.23,.04,-.56,.21],[3.2,.78,-.21,.08],
[.29,-2.2,.02,-.1],[.8,-2.16,-.04,-.13],[1.29,-2.16,-.6,-.4],[1.76,-2.16,-.94,-.52],[2.23,-2.16,-.68,-.23],[.29,-2.55,.02,-.1],[1.29,-2.53,-.73,-.35],[1.74,-2.53,-.67,-.26],[2.72,-2.53,-.62,0],[3.2,-2.53,-.34,0],[3.67,-2.53,-.5,-.09],[4.13,-2.53,-.4,-.19],[-.16,-2.89,.02,0],[.29,-2.89,0,.06],[1.29,-2.89,-.81,-.35],[1.74,-2.89,-.58,-.19],[2.23,-2.89,-.62,0],[2.72,-2.89,-.34,0],[3.2,-2.89,-.43,-.01],[3.67,-2.89,-.4,0],[4.13,-2.89,-.4,-.05],[-.16,-3.26,.03,0],[.29,-3.26,-.04,0],[.8,-3.26,-.3,-.03],[1.29,-3.26,-.77,-.2],[1.74,-3.26,-.64,-.2],[2.23,-3.26,-.94,-.03],[2.72,-3.26,-.62,-.02],[3.2,-3.26,-.37,.02],[3.67,-3.26,-.38,.03],[4.13,-3.26,-.43,.15],[4.6,-3.26,-.33,.12],[.29,-3.62,-.1,0],[.8,-3.62,-.34,.03],[1.29,-3.62,-.73,-.04],[1.76,-3.62,-.9,-.08],[2.23,-3.62,-.98,-.12],[2.72,-3.62,-.62,-.04],[3.2,-3.62,-.38,.04],[3.67,-3.62,-.38,.12],[4.13,-3.62,-.56,.23],[4.6,-3.62,-.23,.1],[.29,-3.99,-.09,0],[.8,-3.99,-.36,.08],[1.29,-3.99,-.68,.02],[1.78,-4.02,-.83,.01],[2.23,-3.99,-.88,-.11],[4.13,-4.01,-.6,.26],[4.58,-4.02,-.19,.12]];

const arrowsOrange = [[3.87,-.33,.34,-.12],[3.2,-.33,.38,-.12],[2.68,-.31,.34,-.12],[3.67,-.33,.46,-.26],[3.2,-.7,.26,-.13],[3.67,-.7,.63,-.52],[3.2,-1.07,.23,-.3],[4.13,-1.44,-.17,-.06],[3.67,-1.07,.23,-.3],[4.13,-.7,.56,-.58],[4.6,-.66,.13,-.08],[5.05,-.7,.26,.14],[5.52,-.7,.32,.11],[4.6,-1.07,-.17,.21],[5.05,-1.07,.23,.16],[5.54,-1.05,.37,0],[6.01,-.7,.15,-.33],[5.05,-.29,-.02,.02],[5.52,0,.15,-.33],[4.6,-1.44,-.04,.04],[5.05,-1.44,.23,.08],[5.52,-1.42,.34,-.19],[6.01,-1.4,.24,-.45],[4.6,-1.79,-.11,-.29],[5.05,-1.79,.2,-.22],[5.52,-1.79,.34,-.41],[6.01,-1.79,.2,-.41],[6.48,-1.77,.3,-.41],[4.13,-1.81,-.27,-.35],[4.13,-2.16,-.34,-.56],[4.6,-2.16,-.21,-.4],[5.05,-2.16,.09,-.64],[5.52,-2.16,.3,-.52],[6.01,-2.16,.18,-.4],[6.48,-2.16,.28,-.27],[4.6,-2.53,-.4,-.26],[5.05,-2.53,-.13,-.44],[5.52,-2.53,.26,-.27],[6.01,-2.53,.21,-.27],[6.48,-2.53,.23,-.31],[5.52,-2.89,.26,-.16],[6.01,-2.89,.32,-.29],[6.48,-2.89,.2,-.32],[5.05,-3.26,-.11,-.02],[5.52,-3.26,.38,-.16],[6.01,-3.26,.5,-.28],[6.48,-3.26,.21,-.24],[5.05,-3.62,0,.02],[5.52,-3.62,.43,-.16],[6.01,-3.62,.58,-.23],[6.48,-3.62,.26,-.16],[6.96,-3.26,.09,-.2],[6.96,-3.62,-.02,-.12],[7.42,-3.62,.06,-.16],[5.05,-4,.02,-.04],[5.52,-3.99,.38,-.16],[6.01,-3.99,.56,-.14],[6.48,-4.01,.28,-.02],[6.98,-4.01,.02,-.03],[5.05,-4.4,.02,-.03],[5.52,-4.36,.32,-.16],[6.01,-4.36,.5,-.08],[6.48,-4.36,.3,.04],[6.96,-2.89,.38,-.21],[7.42,-2.89,.75,.02],[7.42,-3.26,.39,-.13],[7.9,-3.26,.6,.05],[8.36,-2.89,.84,.23]];

const arrowsCross = [[4.13,2.98,-.37,-.61],[4.6,2.98,-.43,-.53],[5.05,3.36,-.17,0],[5.05,2.98,-.23,.02],[5.05,2.63,-.28,-.1],[4.13,2.63,-.37,-.49],[4.6,2.63,-.43,-.63],[5.05,2.25,-.36,-.29],[4.13,2.25,-.3,-.77],[4.6,2.25,-.84,-1.26],[5.05,1.88,-1.32,-.9],[4.6,1.88,-.77,-.64],[5.05,1.52,-2.01,-1.6],[5.52,1.52,-2.95,-1.65],[5.52,1.15,-2.67,-1.28],[5.05,1.15,-1.97,-1.35],[4.6,1.52,-1.28,-1.35],[4.13,1.52,-.56,-.7],[3.67,1.52,-.17,-.49],[4.13,1.15,-.81,-.99],[4.6,1.15,-.85,-.78],[3.67,1.15,-.43,-.99],[3.67,.78,-.21,-.95],[4.13,.78,-.81,-.95],[4.6,.78,-.9,-.95],[5.05,.78,-1.32,-.91],[5.05,.41,-.98,-.08],[5.05,.04,-1.24,.29],[4.6,.04,-1.24,0],[4.13,.41,-.34,-.58],[6.01,1.15,-.47,-.53],[6.01,.78,-.28,-.62],[5.52,1.15,-.85,-.82],[5.52,.78,-.77,-.7],[5.52,.41,-.26,-.66],[5.52,.04,.13,-.33],[5.05,-.31,-.02,.04],[4.13,-.31,.17,-.33],[4.6,-.31,-.38,-.29]];

const arrowsGold = [[6.01,4.1,-.26,-.19],[6.48,4.1,-.25,-.21],[6.95,4.1,0,-.15],[6.01,3.73,-.32,-.29],[5.52,3.73,-.2,-.22],[6.48,3.73,-.26,-.23],[6.95,3.73,0,-.23],[7.42,3.73,.41,-.4],[7.9,3.36,.51,-.37],[8.36,3.36,.54,-.48],[5.05,3.36,-.17,0],[5.52,3.36,-.13,-.16],[6.01,3.36,-.26,-.25],[6.48,3.36,-.26,-.27],[6.95,3.36,.03,-.27],[7.42,3.36,.5,-.49],[5.52,2.98,-.13,-.08],[6.01,2.98,-.2,-.18],[6.48,2.98,-.32,-.25],[6.95,2.98,.07,-.92],[7.42,2.98,.43,-.49],[7.9,2.98,.81,-.68],[8.36,2.98,.74,-.63],[8.82,2.63,.43,-.45],[9.3,2.25,.26,-.52],[5.52,2.63,-.13,.04],[6.01,2.63,-.17,-.04],[6.48,2.63,-.34,-.18],[6.95,2.63,.15,-.78],[7.42,2.63,.45,-.53],[7.9,2.63,.66,-1.07],[8.36,2.63,.75,-.99],[8.84,2.25,.6,-.23],[5.52,2.25,-.09,.1],[6.01,2.25,-.04,.22],[6.48,2.25,-.06,.1],[6.95,2.25,.11,-.44],[7.42,2.25,.37,-.64],[7.9,2.25,.66,-.72],[8.36,2.25,.79,-.62],[8.84,2.25,.26,-.56],[9.3,1.88,.21,-.53],[5.52,1.88,-.21,-.15],[6.01,1.88,.04,.1],[6.48,1.88,.31,.1],[6.95,1.88,.45,-.35],[7.42,1.88,.37,-.72],[7.9,1.88,.34,-.77],[8.36,1.88,.24,-1.13],[8.84,1.88,.23,-.6],[9.3,1.52,.17,-.53],[6.01,1.52,-.17,-.3],[6.48,1.52,.37,-.25],[6.95,1.52,.54,-.62],[7.42,1.52,.2,-.78],[7.9,1.52,.19,-1.03],[8.36,1.52,.2,-1.28],[8.84,1.52,.15,-.49],[9.3,1.15,.04,-.58],[6.48,1.15,.24,-.45],[6.95,1.15,.5,-.62],[7.42,1.15,.2,-.82],[7.9,1.15,.1,-1.07],[8.36,1.15,.15,-1.15],[8.84,1.15,.15,-.54],[9.35,.74,0,-.82],[6.48,.78,.31,-.62],[6.95,.78,.28,-.53],[7.42,.78,.2,-.7],[6.01,.41,.3,-.74],[6.48,.41,.32,-.62],[6.95,.41,.24,-.66],[7.42,.04,.32,-.25],[7.9,.04,.32,-.37],[7.9,.41,.27,-.78],[8.36,.41,.24,-1.15],[8.84,.41,.06,-1.15]];

const arrowsLime = [[6.01,0,.24,-.58],[6.5,-.08,.21,-.37],[6.97,-.08,.21,-.16],[7.42,-.33,.43,-.25],[7.9,-.33,.53,-.54],[8.36,-.33,.45,-1.23],[8.84,0,.04,-.99],[8.82,-.41,.15,-.58],[6.01,-.7,.11,-.33],[6.5,-.49,.17,-.16],[6.97,-.7,.3,-.41],[7.42,-.7,.68,-.62],[7.9,-.7,.7,-.7],[8.36,-.7,.45,-.91],[8.84,-1.03,.43,-.95],[9.3,-1.03,.21,-.74],[6.01,-1.03,.11,-.37],[6.5,-1.03,.13,-.74],[6.97,-1.03,.68,-1.03],[7.42,-1.03,.98,-.95],[7.9,-1.03,.96,-1.11],[8.36,-1.03,.62,-1.19],[8.82,-1.4,.27,-.99],[6.5,-1.77,.3,-.41],[6.97,-1.77,.68,-.25],[7.42,-1.4,1.11,-.66],[7.9,-1.4,.96,-.82],[8.36,-1.4,.71,-1.07],[9.3,-1.4,.26,-.82],[6.97,-2.16,.9,-.15],[7.42,-2.16,1.41,-.05],[7.9,-1.77,1.04,-.62],[8.36,-1.77,.67,-.7],[8.84,-1.77,.26,-.7],[7.42,-1.77,1.24,-.37],[6.97,-2.53,.68,-.15],[7.42,-2.53,1.32,.1],[7.9,-2.16,1.17,-.31],[8.36,-2.16,.79,-.4],[7.9,-2.53,1.13,.06],[8.84,-2.16,.32,-.43],[9.3,-1.8,.15,-.5]];

const groups = [
  { pts: cyan, color: 'rgba(0,172,210,0.6)' },
  { pts: teal, color: 'rgba(0,185,160,0.6)' },
  { pts: pink, color: 'rgba(240,85,165,0.65)' },
  { pts: purple, color: 'rgba(190,95,240,0.65)' },
  { pts: olive, color: 'rgba(150,170,0,0.6)' },
  { pts: green, color: 'rgba(0,185,105,0.65)' },
  { pts: salmon, color: 'rgba(240,100,90,0.6)' },
  { pts: periwinkle, color: 'rgba(125,125,245,0.6)' },
  { pts: magenta, color: 'rgba(235,85,215,0.65)' },
  { pts: gold, color: 'rgba(180,145,0,0.6)' },
  { pts: lime, color: 'rgba(50,180,10,0.6)' },
  { pts: orange, color: 'rgba(225,135,0,0.6)' },
  { pts: blue, color: 'rgba(0,165,245,0.65)' }
];

const arrows = [].concat(arrowsTop, arrowsPink, arrowsTealRight, arrowsCentre, arrowsLeft, arrowsBridge, arrowsOrange, arrowsCross, arrowsGold, arrowsLime);

// los tallos van como una linea cortada con NaN
const shafts = [];
arrows.forEach(function (a) {
  shafts.push({ x: a[0], y: a[1] });
  shafts.push({ x: a[0] + a[2], y: a[1] + a[3] });
  shafts.push({ x: NaN, y: NaN });
});

const datasets = [{
  data: shafts,
  showLine: true,
  spanGaps: false,
  borderColor: '#000',
  borderWidth: 1.7,
  pointRadius: 0,
  order: 0
}];
groups.forEach(function (g, i) {
  datasets.push({
    data: g.pts.map(function (p) { return { x: p[0], y: p[1] }; }),
    backgroundColor: g.color,
    borderWidth: 0,
    pointRadius: 5,
    showLine: false,
    order: i + 1
  });
});

const arrowHeads = {
  id: 'arrowHeads',
  afterDatasetsDraw: function (chart) {
    const c = chart.ctx, sx = chart.scales.x, sy = chart.scales.y, a = chart.chartArea;
    c.save();
    c.strokeStyle = '#000';
    c.lineWidth = 1.7;
    c.lineCap = 'round';
    arrows.forEach(function (r) {
      const x0 = sx.getPixelForValue(r[0]), y0 = sy.getPixelForValue(r[1]);
      const x1 = sx.getPixelForValue(r[0] + r[2]), y1 = sy.getPixelForValue(r[1] + r[3]);
      const ang = Math.atan2(y1 - y0, x1 - x0);
      c.beginPath();
      c.moveTo(x1 - 6.5 * Math.cos(ang - 0.5), y1 - 6.5 * Math.sin(ang - 0.5));
      c.lineTo(x1, y1);
      c.lineTo(x1 - 6.5 * Math.cos(ang + 0.5), y1 - 6.5 * Math.sin(ang + 0.5));
      c.stroke();
    });
    c.strokeStyle = '#222';
    c.lineWidth = 1.5;
    c.strokeRect(a.left, a.top, a.right - a.left, a.bottom - a.top);
    c.restore();
  }
};

new Chart(document.getElementById('chart'), {
  type: 'scatter',
  data: { datasets: datasets },
  plugins: [arrowHeads],
  options: {
    responsive: false,
    animation: false,
    layout: { padding: { top: 32, right: 32, left: 0, bottom: 0 } },
    plugins: { legend: { display: false }, tooltip: { enabled: false } },
    scales: {
      x: {
        type: 'linear', min: -8.05, max: 9.64,
        afterBuildTicks: function (s) { s.ticks = xTicks.map(function (v) { return { value: v }; }); },
        afterFit: function (s) { s.height = 89; },
        grid: { drawOnChartArea: false, color: '#222', tickLength: 13, lineWidth: 1.5 },
        border: { color: '#222', width: 1.5 },
        ticks: { color: '#000', padding: 11, maxRotation: 0, font: { family: 'Liberation Sans', size: 21 }, callback: function (v) { return String(v); } }
      },
      y: {
        type: 'linear', min: -6.2, max: 9.09,
        afterBuildTicks: function (s) { s.ticks = yTicks.map(function (v) { return { value: v }; }); },
        afterFit: function (s) { s.width = 64; },
        grid: { drawOnChartArea: false, color: '#222', tickLength: 13, lineWidth: 1.5 },
        border: { color: '#222', width: 1.5 },
        ticks: { color: '#000', padding: 12, minRotation: 90, maxRotation: 90, crossAlign: 'center', font: { family: 'Liberation Sans', size: 21 }, callback: function (v) { return String(v); } }
      }
    }
  }
});
</script>
</body>
</html>
